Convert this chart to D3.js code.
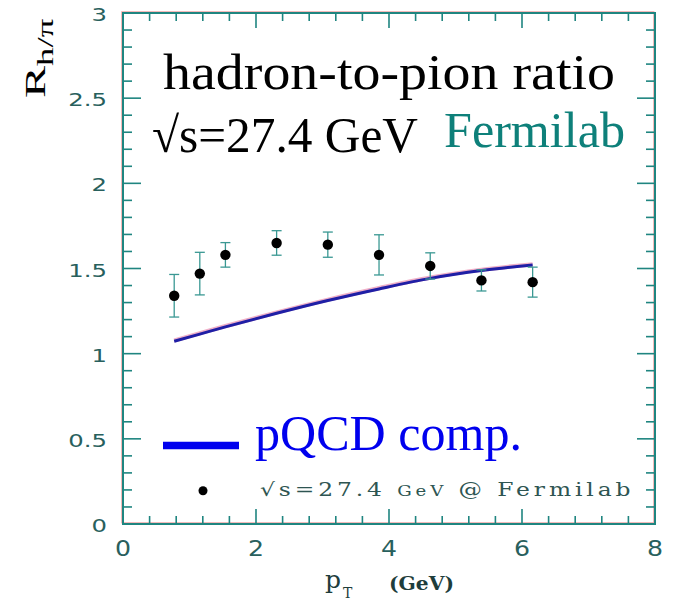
<!DOCTYPE html>
<html>
<head>
<meta charset="utf-8">
<script src="https://cdn.jsdelivr.net/npm/d3@7"></script>
<style>
  html, body { margin: 0; padding: 0; background: #fff; }
  svg { display: block; }
</style>
</head>
<body>
<svg id="chart" width="675" height="602"></svg>
<script>
// Hadron-to-pion ratio vs transverse momentum, sqrt(s) = 27.4 GeV
const ptValues    = [0.77, 1.155, 1.54, 2.31, 3.08, 3.85, 4.62, 5.39, 6.16];
const ratioValues = [1.34, 1.47, 1.58, 1.65, 1.64, 1.58, 1.515, 1.43, 1.42];
const ratioErrors = [0.125, 0.125, 0.072, 0.072, 0.074, 0.118, 0.077, 0.062, 0.088];
const pqcdValues  = [1.073, 1.115, 1.157, 1.237, 1.312, 1.38, 1.442, 1.488, 1.52];

const xTickLabels = [0, 2, 4, 6, 8];
const yTickLabels = [0, 0.5, 1, 1.5, 2, 2.5, 3];

const svg = d3.select("#chart");
const frame = { left: 123, right: 655, top: 13, bottom: 524 };

const x = d3.scaleLinear().domain([0, 8]).range([frame.left, frame.right]);
const y = d3.scaleLinear().domain([0, 3]).range([frame.bottom, frame.top]);

const axisColor = "#1f8580";
const fringe = "#f2a9a9";
const labelColor = "#28605d";
const paperFont = "DejaVu Serif, Liberation Serif, serif";

// faint colour fringe behind the frame
svg.append("rect")
  .attr("x", frame.left - 1.2).attr("y", frame.top - 1.2)
  .attr("width", frame.right - frame.left).attr("height", frame.bottom - frame.top)
  .attr("fill", "none").attr("stroke", fringe).attr("stroke-width", 1.2);

// ticks on all four sides, pointing inward
const xMinor = d3.range(0, 8.001, 0.4);
const yMinor = d3.range(0, 3.001, 0.1);
const isMajorX = v => Math.abs(v / 2 - Math.round(v / 2)) < 1e-6;
const isMajorY = v => Math.abs(v / 0.5 - Math.round(v / 0.5)) < 1e-6;

const ticks = svg.append("g").attr("stroke", axisColor).attr("stroke-width", 1.6);
xMinor.forEach(v => {
  const len = isMajorX(v) ? 15 : 8;
  ticks.append("line").attr("x1", x(v)).attr("x2", x(v))
    .attr("y1", frame.bottom).attr("y2", frame.bottom - len);
  ticks.append("line").attr("x1", x(v)).attr("x2", x(v))
    .attr("y1", frame.top).attr("y2", frame.top + len);
});
yMinor.forEach(v => {
  const len = isMajorY(v) ? 18 : 9;
  ticks.append("line").attr("y1", y(v)).attr("y2", y(v))
    .attr("x1", frame.left).attr("x2", frame.left + len);
  ticks.append("line").attr("y1", y(v)).attr("y2", y(v))
    .attr("x1", frame.right).attr("x2", frame.right - len);
});

svg.append("rect")
  .attr("x", frame.left).attr("y", frame.top)
  .attr("width", frame.right - frame.left).attr("height", frame.bottom - frame.top)
  .attr("fill", "none").attr("stroke", axisColor).attr("stroke-width", 2);

// tick labels (wide, slightly stretched digits)
svg.append("g").selectAll("text").data(xTickLabels).join("text")
  .attr("transform", d => `translate(${x(d)},556) scale(1.2,1)`)
  .attr("text-anchor", "middle")
  .attr("font-family", "DejaVu Sans").attr("font-size", 21)
  .attr("fill", labelColor)
  .text(d => d);

svg.append("g").selectAll("text").data(yTickLabels).join("text")
  .attr("transform", d => `translate(107,${y(d) + 8}) scale(1.35,1)`)
  .attr("text-anchor", "end")
  .attr("font-family", "DejaVu Sans").attr("font-size", 18)
  .attr("fill", labelColor)
  .text(d => d);

// axis titles
const yTitle = svg.append("text")
  .attr("transform", "translate(45,98) rotate(-90) scale(1.6,1)")
  .attr("font-family", "Liberation Serif").attr("fill", "#000");
yTitle.append("tspan").attr("font-size", 30).text("R");
yTitle.append("tspan").attr("font-size", 23).attr("dy", 8).text("h/π");

svg.append("text").attr("x", 325).attr("y", 588)
  .attr("font-family", paperFont).attr("font-size", 25).attr("fill", "#1e3d3b")
  .text("p");
svg.append("text").attr("x", 343).attr("y", 598)
  .attr("font-family", paperFont).attr("font-size", 14).attr("fill", "#1e3d3b")
  .text("T");
svg.append("text").attr("x", 389).attr("y", 590)
  .attr("font-family", paperFont).attr("font-weight", "bold")
  .attr("font-size", 19).attr("fill", "#1e3d3b")
  .attr("textLength", 65).attr("lengthAdjust", "spacingAndGlyphs")
  .text("(GeV)");

// pQCD comparison curve
const line = d3.line()
  .x((d, i) => x(ptValues[i]))
  .y(d => y(d))
  .curve(d3.curveMonotoneX);
svg.append("path").datum(pqcdValues)
  .attr("d", line)
  .attr("fill", "none").attr("stroke", "#f0b0c8").attr("stroke-width", 4.2)
  .attr("transform", "translate(0,-0.8)");
svg.append("path").datum(pqcdValues)
  .attr("d", line)
  .attr("fill", "none").attr("stroke", "#1f1fa6").attr("stroke-width", 3);

// data points with error bars
const pts = svg.append("g");
ptValues.forEach((px, i) => {
  const cx = x(px);
  const top = y(ratioValues[i] + ratioErrors[i]);
  const bot = y(ratioValues[i] - ratioErrors[i]);
  const eb = pts.append("g").attr("stroke", "#3a9893").attr("stroke-width", 1.3);
  eb.append("line").attr("x1", cx).attr("x2", cx).attr("y1", top).attr("y2", bot);
  eb.append("line").attr("x1", cx - 5).attr("x2", cx + 5).attr("y1", top).attr("y2", top);
  eb.append("line").attr("x1", cx - 5).attr("x2", cx + 5).attr("y1", bot).attr("y2", bot);
  pts.append("circle").attr("cx", cx).attr("cy", y(ratioValues[i])).attr("r", 5.2).attr("fill", "#000");
});

// headline text
svg.append("text").attr("x", 163).attr("y", 89)
  .attr("font-family", "Liberation Serif").attr("font-size", 50).attr("fill", "#000")
  .attr("textLength", 452).attr("lengthAdjust", "spacingAndGlyphs")
  .text("hadron-to-pion ratio");
svg.append("text").attr("x", 152).attr("y", 152)
  .attr("font-family", "Liberation Serif").attr("font-size", 50).attr("fill", "#000")
  .attr("textLength", 266).attr("lengthAdjust", "spacingAndGlyphs")
  .text("√s=27.4 GeV");
svg.append("text").attr("x", 444).attr("y", 147)
  .attr("font-family", "Liberation Serif").attr("font-size", 50).attr("fill", "#0e807a")
  .attr("textLength", 181).attr("lengthAdjust", "spacingAndGlyphs")
  .text("Fermilab");

// legend
svg.append("line").attr("x1", 163).attr("x2", 239).attr("y1", 445.5).attr("y2", 445.5)
  .attr("stroke", "#0000ee").attr("stroke-width", 7.5);
svg.append("text").attr("x", 255).attr("y", 450)
  .attr("font-family", "Liberation Serif").attr("font-size", 50).attr("fill", "#0000ee")
  .attr("textLength", 267).attr("lengthAdjust", "spacingAndGlyphs")
  .text("pQCD comp.");

svg.append("circle").attr("cx", 203).attr("cy", 490.7).attr("r", 4.5).attr("fill", "#000");
const dataLegend = svg.append("text")
  .attr("transform", "translate(260,496) scale(1.3,1)")
  .attr("font-family", paperFont).attr("fill", "#2e5552")
  .attr("textLength", 285).attr("lengthAdjust", "spacing");
dataLegend.append("tspan").attr("font-size", 18).text("√s=27.4 ");
dataLegend.append("tspan").attr("font-size", 14).text("GeV");
dataLegend.append("tspan").attr("font-size", 18).text(" @ Fermilab");
</script>
</body>
</html>
